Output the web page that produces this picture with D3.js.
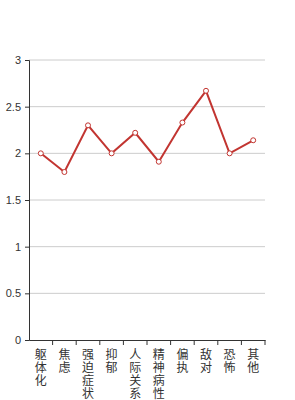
<!DOCTYPE html>
<html>
<head>
<meta charset="utf-8">
<script src="https://cdn.jsdelivr.net/npm/d3@7"></script>
<style>
  body { margin: 0; background: #fff; }
  text { font-family: "Noto Sans CJK SC", "DejaVu Sans", sans-serif; }
</style>
</head>
<body>
<div id="chart"></div>
<script>
const categories = ["躯体化", "焦虑", "强迫症状", "抑郁", "人际关系敏感", "精神病性", "偏执", "敌对", "恐怖", "其他"];
const values = [2.0, 1.8, 2.3, 2.0, 2.22, 1.91, 2.33, 2.67, 2.0, 2.14];
const yTicks = [0, 0.5, 1, 1.5, 2, 2.5, 3];

const margin = { top: 60, right: 30, bottom: 60, left: 29 };
const width = 295 - margin.left - margin.right;
const height = 400 - margin.top - margin.bottom;

const svg = d3.select("#chart").append("svg")
    .attr("width", 295)
    .attr("height", 400)
    .append("g")
    .attr("transform", "translate(" + margin.left + "," + margin.top + ")");

const x = d3.scaleBand()
    .domain(categories)
    .range([0, width]);

const y = d3.scaleLinear()
    .domain([0, 3])
    .range([height, 0]);

// grid lines
svg.append("g")
    .selectAll("line")
    .data(yTicks.filter(d => d > 0))
    .enter()
    .append("line")
    .attr("x1", 0)
    .attr("x2", width)
    .attr("y1", d => y(d))
    .attr("y2", d => y(d))
    .style("stroke", "#ccc")
    .style("stroke-width", 1);

// y axis
const yAxis = svg.append("g")
    .call(d3.axisLeft(y).tickValues(yTicks).tickSize(4).tickPadding(4).tickFormat(d => d));
yAxis.select(".domain").attr("stroke", "#333");
yAxis.selectAll(".tick line").attr("stroke", "#333");
yAxis.selectAll("text").style("font-size", "11px").style("fill", "#333")
    .style("font-family", "'Liberation Sans', Arial, sans-serif");

// x axis
const xAxis = svg.append("g")
    .attr("transform", "translate(0," + height + ")")
    .call(d3.axisBottom(x).tickSize(0).tickFormat(""));
xAxis.select(".domain").attr("stroke", "#333");

// band boundary ticks
xAxis.append("g")
    .selectAll("line")
    .data(categories)
    .enter()
    .append("line")
    .attr("x1", d => x(d) + x.bandwidth())
    .attr("x2", d => x(d) + x.bandwidth())
    .attr("y1", 0)
    .attr("y2", 5)
    .attr("stroke", "#333");

// vertical labels
const labels = svg.append("g")
    .selectAll("text")
    .data(categories)
    .enter()
    .append("text")
    .attr("x", d => x(d) + x.bandwidth() / 2)
    .attr("y", height + 8)
    .style("font-size", "12px")
    .style("fill", "#333")
    .attr("text-anchor", "middle");

labels.selectAll("tspan")
    .data(d => d.split(""))
    .enter()
    .append("tspan")
    .attr("x", function () { return d3.select(this.parentNode).attr("x"); })
    .attr("dy", (d, i) => i === 0 ? "0.9em" : "1.08em")
    .text(d => d);

const line = d3.line()
    .x((d, i) => x(categories[i]) + x.bandwidth() / 2)
    .y(d => y(d));

svg.append("path")
    .datum(values)
    .attr("fill", "none")
    .style("stroke", "#c23531")
    .style("stroke-width", 2)
    .attr("d", line);

svg.selectAll(".point")
    .data(values)
    .enter()
    .append("circle")
    .attr("class", "point")
    .attr("cx", (d, i) => x(categories[i]) + x.bandwidth() / 2)
    .attr("cy", d => y(d))
    .attr("r", 2.5)
    .style("fill", "#fff")
    .style("stroke", "#c23531")
    .style("stroke-width", 1);
</script>
</body>
</html>
